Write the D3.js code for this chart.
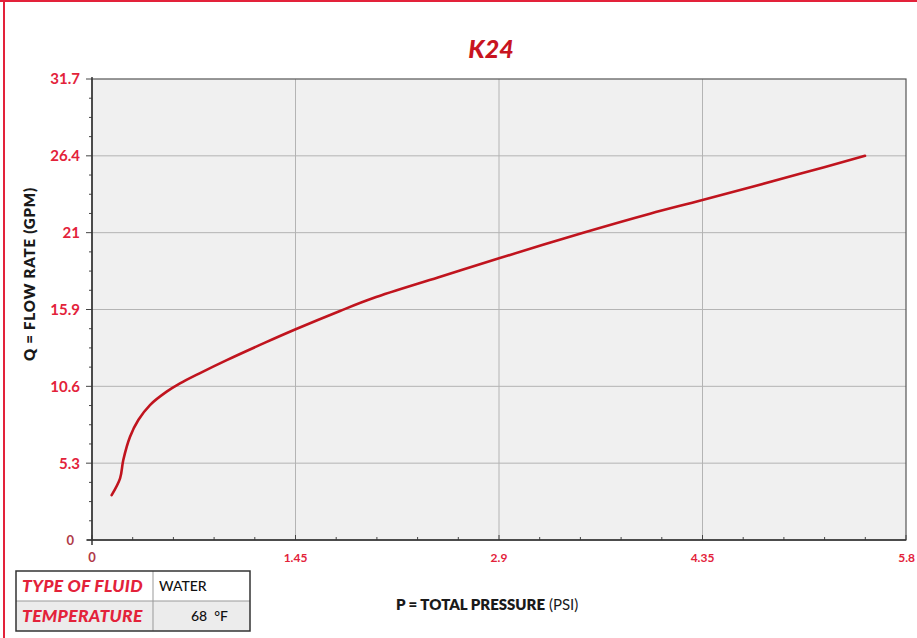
<!DOCTYPE html>
<html><head><meta charset="utf-8">
<script src="https://cdn.jsdelivr.net/npm/d3@7"></script>
<style>
html,body{margin:0;padding:0;background:#fff;}
svg{display:block;}
</style></head>
<body>
<script>
// ---- data ----
const pressure = [0.14, 0.20, 0.223, 0.271, 0.33, 0.413, 0.532, 0.627, 0.77, 0.96, 1.233, 1.451, 1.767, 2.0, 2.465, 2.9, 3.5, 3.976, 4.35, 5.044, 5.508];
const flow     = [3.09, 4.24, 5.50, 7.10, 8.25, 9.28, 10.20, 10.77, 11.48, 12.37, 13.57, 14.49, 15.75, 16.62, 18.05, 19.37, 21.13, 22.44, 23.38, 25.18, 26.42];
const xTickValues = [0, 1.45, 2.9, 4.35, 5.8];
const xTickLabels = ["0", "1.45", "2.9", "4.35", "5.8"];
const yTickValues = [0, 5.2833, 10.5667, 15.85, 21.1333, 26.4167, 31.7];
const yTickLabels = ["0", "5.3", "10.6", "15.9", "21", "26.4", "31.7"];
const title = "K24";
const legendRows = [["TYPE OF FLUID", "WATER"], ["TEMPERATURE", "68  °F"]];

const W = 917, H = 638;
const m = {left: 92, right: 906, top: 79, bottom: 540};
const red = "#e3223a", darkRed = "#c0141e";
const font = "Lato, 'Open Sans', sans-serif";

const svg = d3.select("body").append("svg").attr("width", W).attr("height", H);

// outer frame (top + left visible)
svg.append("rect").attr("x", 0).attr("y", 0).attr("width", W).attr("height", 2).attr("fill", red);
svg.append("rect").attr("x", 3).attr("y", 0).attr("width", 2).attr("height", H).attr("fill", red);

const x = d3.scaleLinear().domain([0, 5.8]).range([m.left, m.right]);
const y = d3.scaleLinear().domain([0, 31.7]).range([m.bottom, m.top]);

// plot background
svg.append("rect").attr("x", m.left).attr("y", m.top)
  .attr("width", m.right - m.left).attr("height", m.bottom - m.top).attr("fill", "#f0f0f0");

// grid
svg.append("g").selectAll("line").data(xTickValues.slice(1, -1)).join("line")
  .attr("x1", d => x(d)).attr("x2", d => x(d)).attr("y1", m.top).attr("y2", m.bottom)
  .attr("stroke", "#b4b4b4").attr("stroke-width", 1);
svg.append("g").selectAll("line").data(yTickValues.slice(1, -1)).join("line")
  .attr("y1", d => y(d)).attr("y2", d => y(d)).attr("x1", m.left).attr("x2", m.right)
  .attr("stroke", "#b4b4b4").attr("stroke-width", 1);

// plot frame
svg.append("rect").attr("x", m.left).attr("y", m.top)
  .attr("width", m.right - m.left).attr("height", m.bottom - m.top)
  .attr("fill", "none").attr("stroke", "#555").attr("stroke-width", 1.2);

// minor ticks x
const xMinor = d3.range(0, 21).map(i => i * 5.8 / 20);
svg.append("g").selectAll("line").data(xMinor).join("line")
  .attr("x1", d => x(d)).attr("x2", d => x(d))
  .attr("y1", m.bottom).attr("y2", (d, i) => i % 5 === 0 ? m.bottom - 5 : m.bottom - 3)
  .attr("stroke", "#444").attr("stroke-width", 1);
// minor ticks y
const yMinor = d3.range(0, 25).map(i => i * 31.7 / 24);
svg.append("g").selectAll("line").data(yMinor).join("line")
  .attr("y1", d => y(d)).attr("y2", d => y(d))
  .attr("x1", m.left).attr("x2", (d, i) => i % 4 === 0 ? m.left - 6 : m.left - 3)
  .attr("stroke", "#444").attr("stroke-width", 1);
svg.append("line").attr("x1", m.left).attr("x2", m.left).attr("y1", m.top - 2).attr("y2", m.bottom + 5)
  .attr("stroke", "#333").attr("stroke-width", 1.5);
svg.append("line").attr("x1", m.left - 5).attr("x2", m.right).attr("y1", m.bottom).attr("y2", m.bottom)
  .attr("stroke", "#333").attr("stroke-width", 1.5);

// y tick labels
svg.append("g").selectAll("text").data(yTickValues).join("text")
  .attr("x", 80).attr("y", d => y(d)).attr("dy", "0.36em")
  .attr("text-anchor", "end")
  .attr("font-family", font).attr("font-weight", 700)
  .attr("font-size", (d, i) => i === 0 ? 13 : 15)
  .attr("fill", (d, i) => i === 0 ? "#b03a48" : red)
  .attr("dx", (d, i) => i === 0 ? -6 : 0)
  .text((d, i) => yTickLabels[i]);

// x tick labels
svg.append("g").selectAll("text").data(xTickValues).join("text")
  .attr("x", d => x(d)).attr("y", m.bottom + 22)
  .attr("text-anchor", (d, i) => i === xTickValues.length - 1 ? "end" : "middle")
  .attr("dx", (d, i) => i === xTickValues.length - 1 ? 9 : 0)
  .attr("font-family", font).attr("font-weight", 700)
  .attr("font-size", (d, i) => i === 0 ? 13 : 12)
  .attr("fill", (d, i) => i === 0 ? "#b03a48" : red)
  .text((d, i) => xTickLabels[i]);

// curve
const pts = pressure.map((p, i) => [p, flow[i]]);
svg.append("path").datum(pts)
  .attr("d", d3.line().x(d => x(d[0])).y(d => y(d[1])).curve(d3.curveCatmullRom.alpha(0.5)))
  .attr("fill", "none").attr("stroke", darkRed).attr("stroke-width", 2.6)
  .attr("stroke-linecap", "round");

// title
svg.append("text").attr("x", 491).attr("y", 58).attr("text-anchor", "middle")
  .attr("font-family", font).attr("font-weight", 900).attr("font-style", "italic")
  .attr("font-size", 25).attr("fill", "#c8141f").text(title);

// y axis label
svg.append("text").attr("transform", "translate(35,274) rotate(-90)")
  .attr("text-anchor", "middle").attr("font-family", font).attr("font-weight", 800)
  .attr("font-size", 15).attr("fill", "#1a1a1a").attr("letter-spacing", "0.8")
  .text("Q = FLOW RATE (GPM)");

// x axis label
const xl = svg.append("text").attr("x", 396).attr("y", 610)
  .attr("font-family", font).attr("font-size", 15).attr("fill", "#1a1a1a");
xl.append("tspan").attr("font-weight", 800).text("P = TOTAL PRESSURE");
xl.append("tspan").attr("font-weight", 400).text(" (PSI)");

// legend table
const lg = svg.append("g");
const lx0 = 16, lx1 = 153, lx2 = 250, ly0 = 571, rowH = 30;
lg.append("rect").attr("x", lx0).attr("y", ly0 + rowH).attr("width", lx2 - lx0).attr("height", rowH).attr("fill", "#ececec");
lg.append("rect").attr("x", lx0).attr("y", ly0).attr("width", lx2 - lx0).attr("height", rowH).attr("fill", "#fff");
lg.append("line").attr("x1", lx0).attr("x2", lx2).attr("y1", ly0 + rowH).attr("y2", ly0 + rowH).attr("stroke", "#999");
lg.append("line").attr("x1", lx1).attr("x2", lx1).attr("y1", ly0).attr("y2", ly0 + 2 * rowH).attr("stroke", "#999");
lg.append("rect").attr("x", lx0).attr("y", ly0).attr("width", lx2 - lx0).attr("height", 2 * rowH)
  .attr("fill", "none").attr("stroke", "#333").attr("stroke-width", 1.5);
lg.selectAll("text.k").data(legendRows).join("text").attr("class", "k")
  .attr("x", 22).attr("y", (d, i) => ly0 + 21 + i * rowH)
  .attr("font-family", font).attr("font-weight", 900).attr("font-style", "italic")
  .attr("font-size", 17.5).attr("fill", red).attr("letter-spacing", "0.3").text(d => d[0]);
lg.selectAll("text.v").data(legendRows).join("text").attr("class", "v")
  .attr("x", (d, i) => i === 0 ? 159 : 191).attr("y", (d, i) => ly0 + 20 + i * rowH)
  .attr("font-family", font).attr("font-weight", 500)
  .attr("font-size", 14).attr("fill", "#111").attr("xml:space", "preserve")
  .style("white-space", "pre").text(d => d[1]);
</script>
</body></html>
